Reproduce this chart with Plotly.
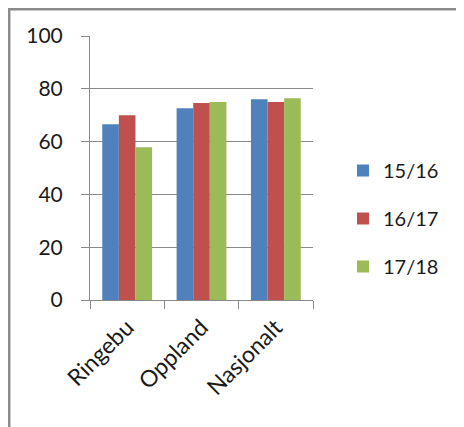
import plotly.graph_objects as go

categories = ["Ringebu", "Oppland", "Nasjonalt"]
series_names = ["15/16", "16/17", "17/18"]
v_1516 = [66.6, 72.6, 76.0]
v_1617 = [70.0, 74.6, 75.0]
v_1718 = [57.9, 75.0, 76.4]
colors = ["#4F81BD", "#C0504D", "#9BBB59"]
y_ticks = [0, 20, 40, 60, 80, 100]

OFF = 8  # page body margin
W, H = 464 - OFF, 427 - OFF
# plot area in reference page pixels
L, R, T, B = 90 - OFF, 313 - OFF, 36 - OFF, 300 - OFF

fig = go.Figure()
for name, vals, col in zip(series_names, [v_1516, v_1617, v_1718], colors):
    fig.add_trace(go.Bar(name=name, x=categories, y=vals, legendgroup=name,
                         marker=dict(color=col, line=dict(width=0))))

FAM = "Lato, Carlito, Calibri, sans-serif"
font = dict(family=FAM, size=21, color="#1a1a1a")
xfont = dict(family=FAM, size=23, color="#1a1a1a")
lfont = dict(family=FAM, size=20, color="#1a1a1a")

def px_x(p):
    return (p - OFF - L) / (R - L)

def px_y(p):
    return (B - (p - OFF)) / (B - T)

fig.update_layout(
    width=W, height=H,
    margin=dict(l=L, r=W - R, t=T, b=H - B, pad=0),
    paper_bgcolor="white", plot_bgcolor="white",
    barmode="group", bargap=0.33, bargroupgap=0,
    font=font,
    showlegend=True,
    legend=dict(x=px_x(343), y=px_y(151), xanchor="left", yanchor="top",
                font=lfont, tracegroupgap=19, itemwidth=30,
                bgcolor="rgba(0,0,0,0)"),
    xaxis=dict(showline=True, linecolor="#8a8a8a", linewidth=1,
               ticks="outside", ticklen=8, tickcolor="#8a8a8a",
               tickson="boundaries", tickangle=-45, tickfont=xfont,
               showgrid=False, ticklabelstandoff=4),
    yaxis=dict(range=[0, 100], tickvals=y_ticks, showline=True,
               linecolor="#8a8a8a", linewidth=1, ticks="outside", ticklen=8,
               tickcolor="#8a8a8a", showgrid=True, gridcolor="#8a8a8a",
               gridwidth=1, zeroline=False, tickfont=font,
               ticklabelstandoff=14),
    shapes=[
        dict(type="line", xref="paper", yref="paper",
             x0=px_x(9.2), x1=px_x(9.2), y0=px_y(8), y1=px_y(440),
             line=dict(color="#8c8c8c", width=2.5)),
        dict(type="line", xref="paper", yref="paper",
             x0=px_x(8), x1=px_x(470), y0=px_y(9.2), y1=px_y(9.2),
             line=dict(color="#8c8c8c", width=2.5)),
    ],
)

fig.write_html("out.html")
